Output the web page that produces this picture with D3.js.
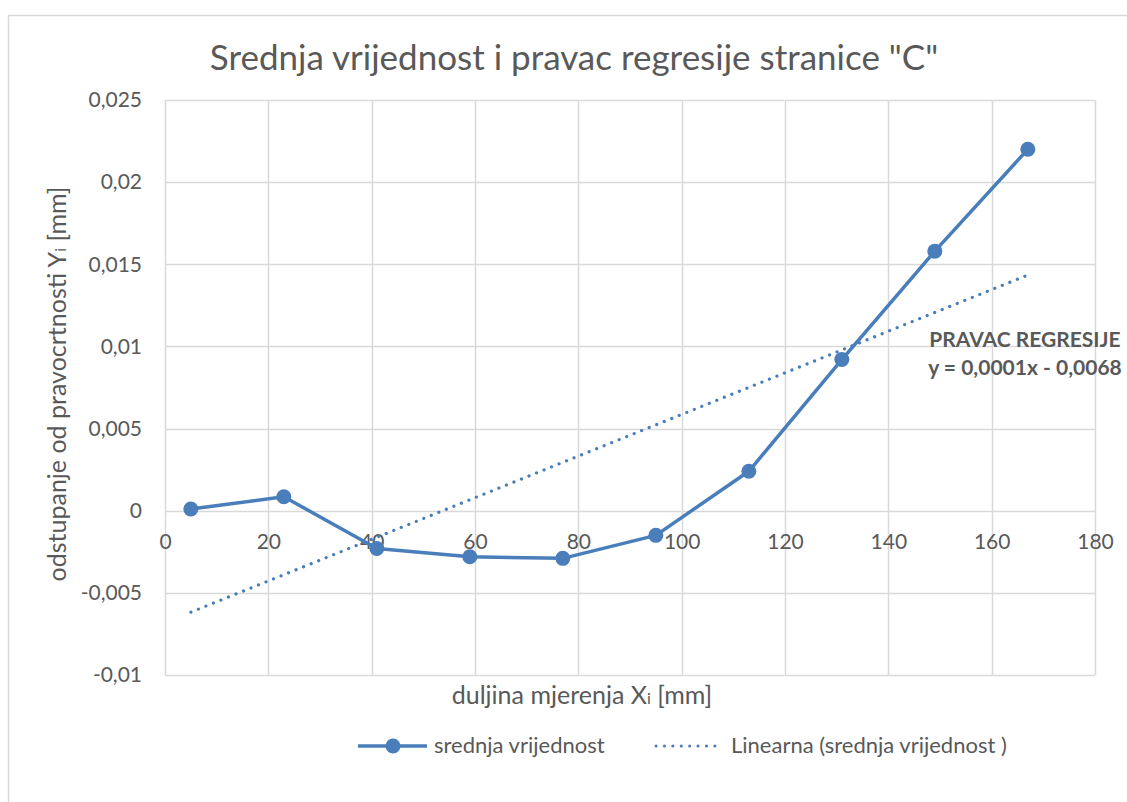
<!DOCTYPE html>
<html>
<head>
<meta charset="utf-8">
<script src="https://cdn.jsdelivr.net/npm/d3@7"></script>
<style>
  html, body { margin: 0; padding: 0; background: #fff; }
  svg { display: block; font-family: Lato, "Open Sans", sans-serif; }
</style>
</head>
<body>
<svg id="chart" width="1127" height="802"></svg>
<script>
// ---- data ----
const xValues = [5, 23, 41, 59, 77, 95, 113, 131, 149, 167];
const yValues = [0.0001, 0.00085, -0.0023, -0.0028, -0.0029, -0.0015, 0.0024, 0.0092, 0.0158, 0.0220];
const xTicks = [0, 20, 40, 60, 80, 100, 120, 140, 160, 180];
const yTicks = [-0.01, -0.005, 0, 0.005, 0.01, 0.015, 0.02, 0.025];
const yTickLabels = ["-0,01", "-0,005", "0", "0,005", "0,01", "0,015", "0,02", "0,025"];
const seriesName = "srednja vrijednost";
const trendName = "Linearna (srednja vrijednost )";
const titleText = "Srednja vrijednost i pravac regresije stranice \"C\"";
const regLabel1 = "PRAVAC REGRESIJE";
const regLabel2 = "y = 0,0001x - 0,0068";

const svg = d3.select("#chart");
const blue = "#4a7ebb";
const grid = "#d9d9d9";
const txt = "#595959";

// border
svg.append("rect").attr("x", 8.5).attr("y", 15.5).attr("width", 1200).attr("height", 900)
  .attr("fill", "none").attr("stroke", "#d9d9d9").attr("stroke-width", 1.5);

const x = d3.scaleLinear().domain([0, 180]).range([165, 1095]);
const y = d3.scaleLinear().domain([-0.01, 0.025]).range([675, 100]);

// gridlines
svg.append("g").selectAll("line.h").data(yTicks).join("line")
  .attr("x1", x(0)).attr("x2", x(180))
  .attr("y1", d => Math.round(y(d)) + 0.5).attr("y2", d => Math.round(y(d)) + 0.5)
  .attr("stroke", grid).attr("stroke-width", 1.5);
svg.append("g").selectAll("line.v").data(xTicks).join("line")
  .attr("y1", y(0.025)).attr("y2", y(-0.01))
  .attr("x1", d => Math.round(x(d)) + 0.5).attr("x2", d => Math.round(x(d)) + 0.5)
  .attr("stroke", grid).attr("stroke-width", 1.5);

// y axis labels
const yAxis = d3.axisLeft(y).tickValues(yTicks).tickSize(0).tickPadding(23)
  .tickFormat((d, i) => yTickLabels[i]);
const gy = svg.append("g").attr("transform", `translate(${x(0)},0)`).call(yAxis);
gy.select(".domain").remove();
gy.selectAll("text").attr("fill", txt).attr("font-size", 21).attr("font-family", "Lato, sans-serif");

// x axis labels at y=0
const xAxis = d3.axisBottom(x).tickValues(xTicks).tickSize(0).tickPadding(23).tickFormat(d => d);
const gx = svg.append("g").attr("transform", `translate(0,${y(0)})`).call(xAxis);
gx.select(".domain").remove();
gx.selectAll("text").attr("fill", txt).attr("font-size", 21).attr("font-family", "Lato, sans-serif");

// regression (least squares from data)
const n = xValues.length;
const mx = d3.mean(xValues), my = d3.mean(yValues);
let sxy = 0, sxx = 0;
for (let i = 0; i < n; i++) { sxy += (xValues[i]-mx)*(yValues[i]-my); sxx += (xValues[i]-mx)**2; }
const slope = sxy / sxx, intercept = my - slope * mx;
const xMin = d3.min(xValues), xMax = d3.max(xValues);

svg.append("line")
  .attr("x1", x(xMin)).attr("y1", y(intercept + slope * xMin))
  .attr("x2", x(xMax)).attr("y2", y(intercept + slope * xMax))
  .attr("stroke", blue).attr("stroke-width", 3.2)
  .attr("stroke-linecap", "round").attr("stroke-dasharray", "0.1 8");

// series line
const pts = xValues.map((v, i) => [v, yValues[i]]);
svg.append("path").datum(pts)
  .attr("d", d3.line().x(d => x(d[0])).y(d => y(d[1])))
  .attr("fill", "none").attr("stroke", blue).attr("stroke-width", 3.5).attr("stroke-linejoin", "round");
svg.append("g").selectAll("circle").data(pts).join("circle")
  .attr("cx", d => x(d[0])).attr("cy", d => y(d[1])).attr("r", 7.5).attr("fill", blue);

// regression label
svg.append("text").attr("x", 1025).attr("y", 347).attr("text-anchor", "middle")
  .attr("font-size", 21).attr("font-weight", "bold").attr("fill", txt).text(regLabel1);
svg.append("text").attr("x", 1025).attr("y", 375).attr("text-anchor", "middle")
  .attr("font-size", 21).attr("font-weight", "bold").attr("fill", txt).text(regLabel2);

// title
svg.append("text").attr("x", 574).attr("y", 70).attr("text-anchor", "middle")
  .attr("font-size", 35).attr("fill", txt).text(titleText);

// x axis title
const xt = svg.append("text").attr("x", 582).attr("y", 704).attr("text-anchor", "middle")
  .attr("font-size", 25).attr("fill", txt);
xt.append("tspan").text("duljina mjerenja X");
xt.append("tspan").attr("font-size", 16).text("i");
xt.append("tspan").text(" [mm]");

// y axis title
const yt = svg.append("text").attr("transform", "translate(66,384) rotate(-90)").attr("text-anchor", "middle")
  .attr("font-size", 25).attr("fill", txt);
yt.append("tspan").text("odstupanje od pravocrtnosti Y");
yt.append("tspan").attr("font-size", 16).text("i");
yt.append("tspan").text(" [mm]");

// legend
const ly = 746;
svg.append("line").attr("x1", 358).attr("x2", 427).attr("y1", ly).attr("y2", ly)
  .attr("stroke", blue).attr("stroke-width", 3.5);
svg.append("circle").attr("cx", 393).attr("cy", ly).attr("r", 7.5).attr("fill", blue);
svg.append("text").attr("x", 434).attr("y", ly + 7).attr("font-size", 22).attr("fill", txt).text(seriesName);
svg.append("line").attr("x1", 656).attr("x2", 723).attr("y1", ly).attr("y2", ly)
  .attr("stroke", blue).attr("stroke-width", 3).attr("stroke-linecap", "round").attr("stroke-dasharray", "0.1 8.3");
svg.append("text").attr("x", 731).attr("y", ly + 7).attr("font-size", 22).attr("fill", txt).text(trendName);
</script>
</body>
</html>
